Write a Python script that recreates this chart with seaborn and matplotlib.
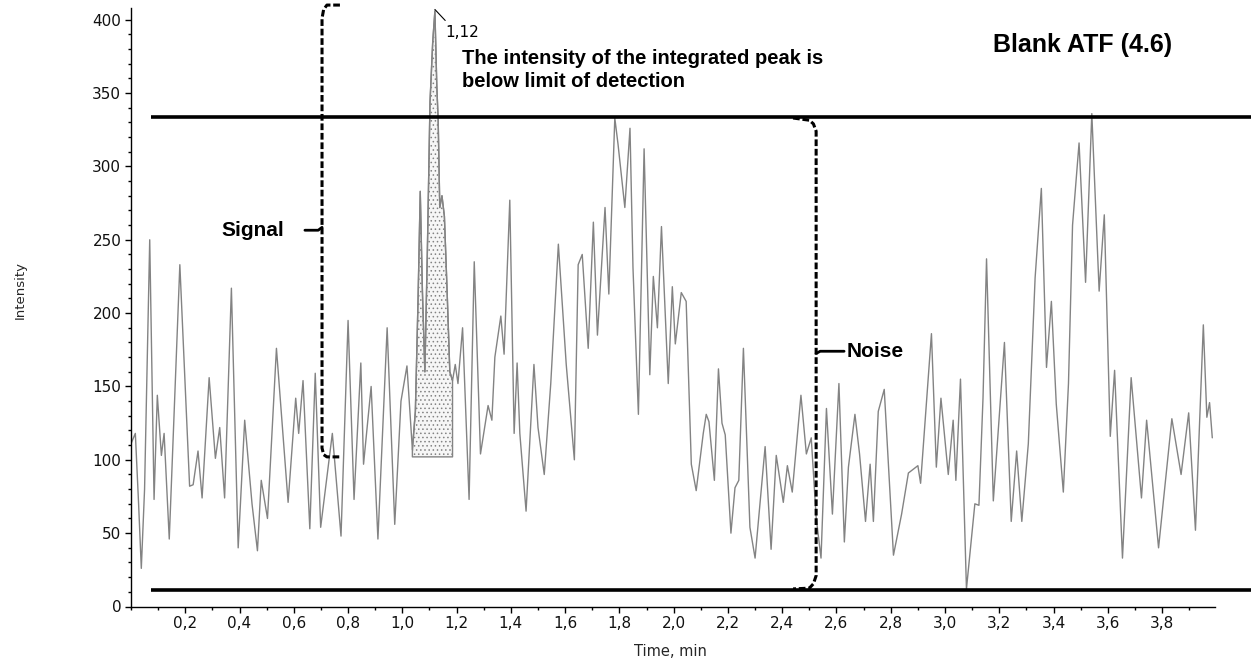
import numpy as np
import pandas as pd
import matplotlib
matplotlib.use("Agg")
import matplotlib.pyplot as plt
import seaborn as sns
from matplotlib.ticker import FixedLocator, MultipleLocator, FuncFormatter

# Chromatogram trace of the blank sample (time in minutes, intensity in counts)
time_min = [
    0.000, 0.016, 0.028, 0.038, 0.050, 0.069, 0.085, 0.097, 0.112, 0.122,
    0.141, 0.180, 0.216, 0.229, 0.247, 0.262, 0.288, 0.311, 0.327, 0.345,
    0.370, 0.395, 0.419, 0.446, 0.466, 0.480, 0.503, 0.536, 0.579, 0.607,
    0.618, 0.634, 0.659, 0.679, 0.699, 0.742, 0.774, 0.800, 0.822, 0.847,
    0.857, 0.885, 0.910, 0.944, 0.972, 0.995, 1.017, 1.037, 1.048, 1.058,
    1.066, 1.074, 1.083, 1.092, 1.102, 1.112, 1.120, 1.127, 1.132, 1.138,
    1.146, 1.155, 1.165, 1.175, 1.185, 1.195, 1.205, 1.222, 1.246, 1.265,
    1.288, 1.316, 1.330, 1.341, 1.363, 1.375, 1.396, 1.412, 1.423, 1.433,
    1.456, 1.485, 1.500, 1.523, 1.547, 1.575, 1.604, 1.634, 1.648, 1.663,
    1.685, 1.704, 1.719, 1.747, 1.761, 1.783, 1.795, 1.820, 1.839, 1.850,
    1.870, 1.891, 1.912, 1.925, 1.940, 1.955, 1.980, 1.995, 2.006, 2.028,
    2.046, 2.065, 2.083, 2.109, 2.120, 2.130, 2.150, 2.165, 2.178, 2.190,
    2.211, 2.226, 2.240, 2.257, 2.281, 2.300, 2.337, 2.359, 2.378, 2.404,
    2.419, 2.437, 2.469, 2.489, 2.507, 2.525, 2.543, 2.563, 2.585, 2.609,
    2.629, 2.644, 2.668, 2.685, 2.707, 2.724, 2.736, 2.754, 2.776, 2.810,
    2.840, 2.865, 2.900, 2.910, 2.950, 2.968, 2.985, 3.012, 3.030, 3.040,
    3.057, 3.079, 3.110, 3.125, 3.140, 3.153, 3.178, 3.219, 3.244, 3.264,
    3.283, 3.307, 3.332, 3.355, 3.374, 3.392, 3.410, 3.436, 3.455, 3.470,
    3.494, 3.518, 3.541, 3.568, 3.587, 3.609, 3.625, 3.654, 3.686, 3.724,
    3.743, 3.787, 3.836, 3.870, 3.898, 3.923, 3.952, 3.965, 3.975, 3.985,
]
intensity = [
    111, 118, 70, 26, 80, 250, 73, 144, 103, 118,
    46, 233, 82, 83, 106, 74, 156, 101, 122, 74,
    217, 40, 127, 70, 38, 86, 60, 176, 71, 142,
    118, 154, 53, 159, 54, 118, 48, 195, 73, 166,
    97, 150, 46, 190, 56, 140, 164, 107, 133, 210,
    283, 215, 160, 240, 344, 385, 406, 355, 332, 272,
    280, 266, 215, 160, 154, 165, 152, 190, 73, 235,
    104, 137, 127, 170, 198, 172, 277, 118, 166, 118,
    65, 165, 122, 90, 152, 247, 165, 100, 233, 240,
    176, 262, 185, 272, 213, 333, 315, 272, 326, 231,
    131, 312, 158, 225, 190, 259, 152, 218, 179, 214,
    208, 97, 79, 118, 131, 126, 86, 162, 125, 117,
    50, 81, 86, 176, 54, 33, 109, 39, 103, 71,
    96, 78, 144, 104, 115, 61, 33, 135, 63, 152,
    44, 95, 131, 104, 58, 97, 58, 133, 148, 35,
    63, 91, 96, 84, 186, 95, 142, 90, 127, 86,
    155, 12, 70, 69, 142, 237, 72, 180, 58, 106,
    58, 111, 224, 285, 163, 208, 138, 78, 152, 260,
    316, 221, 336, 215, 267, 116, 161, 33, 156, 74,
    127, 40, 128, 90, 132, 52, 192, 129, 139, 115,
]

# Integrated peak window and its baseline
peak_start, peak_end = 1.037, 1.185
peak_baseline = 102
peak_label = "1,12"
peak_apex_time, peak_apex_intensity = 1.12, 406

# Noise band and signal span
noise_upper, noise_lower = 334, 11
signal_low, signal_high = 102, 410

x_ticks = [0.2, 0.4, 0.6, 0.8, 1.0, 1.2, 1.4, 1.6, 1.8, 2.0,
           2.2, 2.4, 2.6, 2.8, 3.0, 3.2, 3.4, 3.6, 3.8]
y_ticks = [0, 50, 100, 150, 200, 250, 300, 350, 400]

sns.set_style("ticks")
plt.rcParams["font.family"] = ["DejaVu Sans"]
plt.rcParams["hatch.color"] = "#9a9a9a"
plt.rcParams["hatch.linewidth"] = 0.6

W, H = 1251, 663
fig = plt.figure(figsize=(W / 100, H / 100), dpi=100)
ax = fig.add_axes([131 / W, 1 - 606.5 / H, 1084 / W, 598.5 / H])

df = pd.DataFrame({"Time, min": time_min, "Intensity": intensity})
trace_color = "#838383"

# Shaded integration area under the peak
seg = df[(df["Time, min"] >= peak_start) & (df["Time, min"] <= peak_end)]
ax.fill_between(seg["Time, min"], seg["Intensity"], peak_baseline,
                facecolor="#f6f6f6", edgecolor=trace_color, hatch="....",
                linewidth=1.0, zorder=1)

# Detector trace
sns.lineplot(data=df, x="Time, min", y="Intensity", color=trace_color,
             linewidth=1.0, estimator=None, sort=False, ax=ax, zorder=2)

ax.set_xlim(0, 3.995)
ax.set_ylim(0, 408)

# Noise band limits, running past the plot area to the right edge
for level in (noise_upper, noise_lower):
    ax.plot([0.074, 4.13], [level, level], color="black", lw=2.6,
            solid_capstyle="butt", clip_on=False, zorder=4)

dash = (0, (2.2, 0.9))
bk = dict(color="black", lw=2.2, clip_on=False, zorder=5)

# Signal bracket (opens to the right, tick to the left)
sx = 0.704
sig_x = [0.770, 0.722, 0.710, sx, sx, 0.710, 0.722, 0.770]
sig_y = [signal_high, signal_high, signal_high - 3, signal_high - 9,
         signal_low + 6, signal_low + 1.5, signal_low, signal_low]
ax.plot(sig_x, sig_y, linestyle=dash, **bk)
ax.plot([0.641, 0.690, sx], [256.5, 256.5, 258.5], color="black", lw=2.0,
        clip_on=False, zorder=5)

# Noise bracket (opens to the left, tick to the right)
nx = 2.525
noi_x = [2.440, 2.500, 2.515, nx, nx, 2.515, 2.500, 2.440]
noi_y = [noise_upper - 1, noise_upper - 2.5, noise_upper - 5, noise_upper - 10,
         noise_lower + 10, noise_lower + 4.5, noise_lower + 1.5, noise_lower + 1]
ax.plot(noi_x, noi_y, linestyle=dash, **bk)
ax.plot([nx, 2.540, 2.628], [172.5, 174, 174], color="black", lw=2.0,
        clip_on=False, zorder=5)

bold = dict(family=["Liberation Sans", "DejaVu Sans"], fontweight="bold",
            color="black")
ax.text(0.335, 256.6, "Signal", ha="left", va="center", fontsize=15, **bold)
ax.text(2.636, 174, "Noise", ha="left", va="center", fontsize=15, **bold)
ax.text(1.22, 365.6,
        "The intensity of the integrated peak is\nbelow limit of detection",
        ha="left", va="center", fontsize=14.5, linespacing=1.3, **bold)
ax.text(3.177, 382.7, "Blank ATF (4.6)", ha="left", va="center",
        fontsize=18, **bold)

# Retention time label at the apex of the integrated peak
ax.plot([peak_apex_time, 1.158], [peak_apex_intensity + 1, 399.5],
        color="black", lw=0.8, clip_on=False, zorder=5)
ax.text(1.158, 391.6, peak_label, ha="left", va="center", fontsize=11,
        color="black")

# Axes styling
for side in ("top", "right"):
    ax.spines[side].set_visible(False)
for side in ("left", "bottom"):
    ax.spines[side].set_color("black")
    ax.spines[side].set_linewidth(1.0)

ax.xaxis.set_major_locator(FixedLocator(x_ticks))
ax.xaxis.set_minor_locator(MultipleLocator(0.1))
ax.xaxis.set_major_formatter(FuncFormatter(lambda v, p: f"{v:.1f}".replace(".", ",")))
ax.yaxis.set_major_locator(FixedLocator(y_ticks))
ax.yaxis.set_minor_locator(MultipleLocator(10))
ax.yaxis.set_major_formatter(FuncFormatter(lambda v, p: f"{v:.0f}"))

ax.tick_params(which="major", direction="out", length=4, width=1,
               labelsize=11, pad=3, color="black", labelcolor="#111111")
ax.tick_params(which="minor", direction="out", length=2, width=1, color="black")

ax.set_xlabel("Time, min", fontsize=10.5, va="center")
ax.xaxis.set_label_coords(0.498, -0.076)
ax.set_ylabel("Intensity", fontsize=9.5, va="center")
ax.yaxis.set_label_coords(-0.1024, 0.529)

fig.savefig("out.png", dpi=100, facecolor="white")
